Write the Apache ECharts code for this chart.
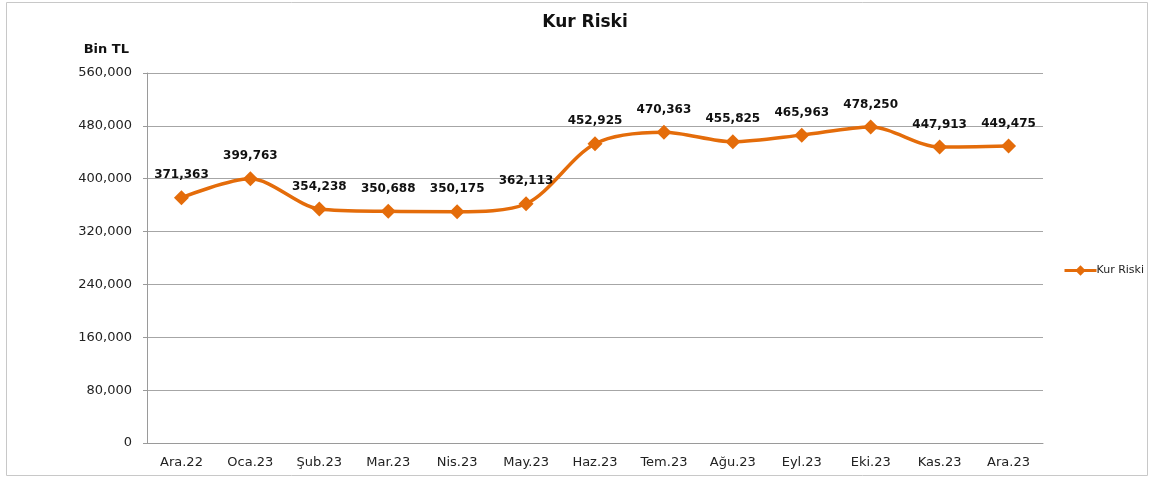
<!DOCTYPE html>
<html>
<head>
<meta charset="utf-8">
<script src="https://cdn.jsdelivr.net/npm/echarts@6/dist/echarts.min.js"></script>
<style>
  html, body { margin: 0; padding: 0; background: #fff; }
  #chart { width: 1151px; height: 479px; }
</style>
</head>
<body>
<div id="chart"></div>
<script>
// aylar
const months = ["Ara.22", "Oca.23", "Şub.23", "Mar.23", "Nis.23", "May.23", "Haz.23",
  "Tem.23", "Ağu.23", "Eyl.23", "Eki.23", "Kas.23", "Ara.23"];
// kur riski (bin TL)
const kurRiski = [371363, 399763, 354238, 350688, 350175, 362113, 452925,
  470363, 455825, 465963, 478250, 447913, 449475];

const orange = "#E46C0A";
const font = "'DejaVu Sans', sans-serif";

const chart = echarts.init(document.getElementById("chart"));
chart.setOption({
  animation: false,
  title: {
    text: "Kur Riski",
    left: 580,
    textAlign: "center",
    top: 9,
    textStyle: { fontFamily: font, fontSize: 17, fontWeight: "bold", color: "#111" }
  },
  graphic: [
    {
      type: "rect",
      shape: { x: 6.5, y: 2.5, width: 1141, height: 473 },
      style: { fill: "none", stroke: "#c8c8c8", lineWidth: 1 }
    }
  ],
  legend: {
    orient: "vertical",
    left: 1058,
    top: 260,
    itemWidth: 32,
    itemHeight: 13,
    itemGap: 4,
    data: ["Kur Riski"],
    lineStyle: { width: 3 },
    textStyle: { fontFamily: font, fontSize: 11, color: "#222", padding: [0, 0, 0, -5] }
  },
  grid: { left: 147, top: 73, width: 896, height: 370 },
  xAxis: {
    type: "category",
    data: months,
    boundaryGap: true,
    axisLine: { lineStyle: { color: "#9a9a9a", width: 1 } },
    axisTick: { show: false },
    axisLabel: { fontFamily: font, fontSize: 13, color: "#222", margin: 13 }
  },
  yAxis: {
    type: "value",
    name: "Bin TL",
    nameLocation: "end",
    nameGap: 17,
    nameTextStyle: { fontFamily: font, fontSize: 13, fontWeight: "bold", color: "#111", align: "right", padding: [0, 18, 0, 0] },
    min: 0,
    max: 560000,
    interval: 80000,
    axisLine: { show: true, lineStyle: { color: "#9a9a9a", width: 1 } },
    axisTick: { show: true, length: 4, lineStyle: { color: "#9a9a9a" } },
    splitLine: { lineStyle: { color: "#a6a6a6", width: 1 } },
    axisLabel: {
      fontFamily: font, fontSize: 13, color: "#222", margin: 15,
      formatter: v => v.toLocaleString("en-US")
    }
  },
  series: [
    {
      name: "Kur Riski",
      type: "line",
      data: kurRiski,
      smooth: 0.3,
      symbol: "diamond",
      symbolSize: 15,
      itemStyle: { color: orange },
      lineStyle: { color: orange, width: 3.5 },
      label: {
        show: true,
        position: "top",
        distance: 9,
        fontFamily: font,
        fontSize: 12,
        fontWeight: "bold",
        color: "#111",
        formatter: p => p.value.toLocaleString("en-US")
      }
    }
  ]
});
</script>
</body>
</html>
